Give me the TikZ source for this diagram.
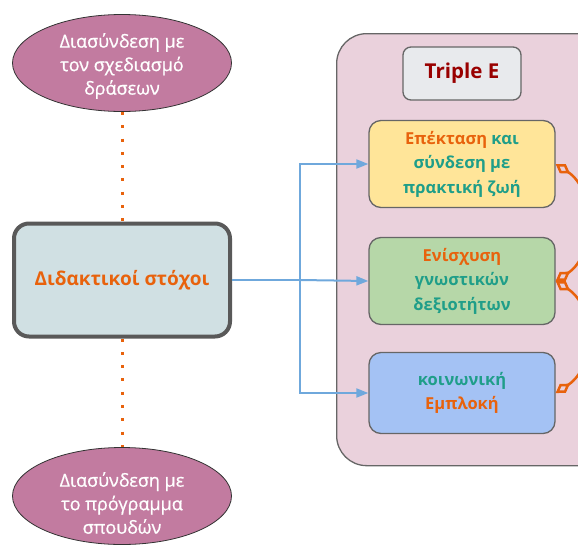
\documentclass[tikz,border=0pt]{standalone}
\usepackage{fontspec}
\setmainfont{Open Sans}
\newfontfamily\ellfont[FakeBold=0.8]{Open Sans}
\usetikzlibrary{arrows.meta,shapes.geometric}
\definecolor{ellfill}{HTML}{C27BA0}
\definecolor{mainfill}{HTML}{D0E0E3}
\definecolor{pinkbg}{HTML}{EAD1DC}
\definecolor{greyfill}{HTML}{E8EAED}
\definecolor{yelfill}{HTML}{FFE599}
\definecolor{grnfill}{HTML}{B6D7A8}
\definecolor{blufill}{HTML}{A4C2F4}
\definecolor{orng}{HTML}{E8620C}
\definecolor{tealc}{HTML}{1F9E89}
\definecolor{dred}{HTML}{990000}
\definecolor{bline}{HTML}{6FA8DC}
\definecolor{bord}{HTML}{666666}
\definecolor{mainbord}{HTML}{595959}
\tikzset{
  ell/.style={draw=black!80, line width=0.8pt, fill=ellfill, ellipse, minimum width=219pt, minimum height=97pt},
  elltext/.style={text=white, align=center, font=\ellfont\fontsize{18}{23.5}\selectfont},
  goalbox/.style={draw=bord, line width=1.3pt, rounded corners=12pt, minimum width=186pt, align=center, font=\bfseries\fontsize{16.5}{24.5}\selectfont},
  dotline/.style={orng, line width=3pt, dash pattern=on 3pt off 10.3pt},
  bluearrow/.style={bline, line width=2pt, -{Triangle[length=12pt,width=9pt]}},
  dtip/.tip={Diamond[open, length=17pt, width=11pt, line width=2.5pt]},
  orngconn/.style={orng, line width=2.5pt, dtip-dtip},
}
\begin{document}
\begin{tikzpicture}[x=1pt,y=-1pt]
\useasboundingbox (0,0) rectangle (578,544);
\clip (0,0) rectangle (578,544);
% container
\node[draw=bord, line width=1.3pt, fill=pinkbg, rounded corners=30pt, minimum width=290pt, minimum height=432pt, anchor=north west] (cont) at (336,33) {};
% ellipses
\node[ell] (top) at (122,63) {};
\node[elltext] (toptext) at (122,66) {Διασύνδεση με\\τον σχεδιασμό\\δράσεων};
\node[ell] (bot) at (122,496) {};
\node[elltext] (bottext) at (122,503) {Διασύνδεση με\\το πρόγραμμα\\σπουδών};
% main box
\node[draw=mainbord, line width=4pt, fill=mainfill, rounded corners=15pt, minimum width=216pt, minimum height=113pt, text=orng, font=\bfseries\fontsize{19}{22}\selectfont] (main) at (122,280) {Διδακτικοί στόχοι};
% triple E
\node[draw=bord, line width=1.3pt, fill=greyfill, rounded corners=8pt, minimum width=118pt, minimum height=53pt, text=dred, font=\bfseries\fontsize{20.5}{24}\selectfont] (triple) at (462,73.5) {Triple E};
% goal boxes
\node[goalbox, fill=yelfill, minimum height=87pt] (yel) at (462,164) {\textcolor{orng}{Επέκταση} \textcolor{tealc}{και}\\\textcolor{tealc}{σύνδεση με}\\\textcolor{tealc}{πρακτική ζωή}};
\node[goalbox, fill=grnfill, minimum height=87pt] (grn) at (462,281) {\textcolor{orng}{Ενίσχυση}\\\textcolor{tealc}{γνωστικών}\\\textcolor{tealc}{δεξιοτήτων}};
\node[goalbox, fill=blufill, minimum height=81pt] (blu) at (462,393) {\textcolor{tealc}{κοινωνική}\\\textcolor{orng}{Εμπλοκή}};
% dotted
\draw[dotline] (top.south) -- (main.north);
\draw[dotline] (main.south) -- (bot.north);
% blue connectors
\coordinate (split) at (300,280);
\draw[bline, line width=2pt] (main.east) -- (split);
\draw[bluearrow] (split) -- (grn.west);
\draw[bluearrow] (split) |- (yel.west);
\draw[bluearrow] (split) |- (blu.west);
% orange connectors
\draw[orngconn] (yel.east) .. controls +(40,26) and +(40,-26) .. (grn.east);
\draw[orngconn] (grn.east) .. controls +(40,26) and +(40,-26) .. (blu.east);
\end{tikzpicture}
\end{document}
